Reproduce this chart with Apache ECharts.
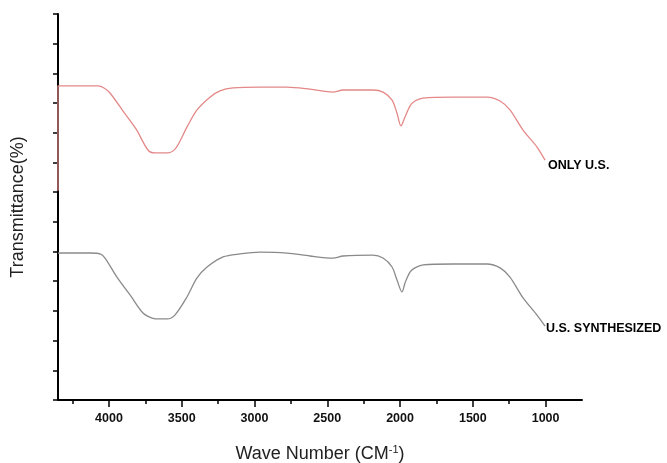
<!DOCTYPE html>
<html lang="en">
<head>
    <meta charset="UTF-8">
    <title>FTIR</title>
    <script src="https://cdn.jsdelivr.net/npm/echarts@6/dist/echarts.min.js"></script>
</head>
<body style="margin:0">
    <div id="chart" style="width:667px;height:463px"></div>
    <script>
        // wave numbers (cm-1) and transmittance
        var waveOnly = [4350, 4350, 4075, 4034, 3993, 3903, 3814, 3732, 3684, 3594, 3539, 3464, 3395, 3306, 3237, 3148,
            2962, 2777, 2619, 2461, 2392, 2186, 2117, 2055, 2021, 1994, 1966, 1932, 1898, 1842, 1636, 1403,
            1313, 1245, 1155, 1059, 1004];
        var transOnly = [70.5, 105.8, 105.8, 105.1, 103.4, 97.3, 91.3, 84.2, 83.2, 83.2, 84.9, 91.9, 97.7, 102.0, 104.1, 105.1,
            105.4, 105.4, 104.7, 103.7, 104.4, 104.4, 103.7, 101.0, 96.6, 92.3, 95.3, 99.0, 100.7, 101.7, 102.0, 102.0,
            100.7, 97.7, 90.9, 85.2, 80.8];

        var waveSynth = [4350, 4130, 4061, 4027, 3945, 3855, 3766, 3704, 3649, 3601, 3547, 3464, 3395, 3326, 3216, 3100,
            2962, 2777, 2619, 2461, 2392, 2186, 2117, 2055, 2021, 1987, 1966, 1932, 1898, 1842, 1636, 1403,
            1313, 1245, 1155, 1059, 1004];
        var transSynth = [49.5, 49.5, 49.2, 47.8, 41.4, 35.4, 29.3, 27.6, 27.3, 27.3, 28.6, 34.7, 41.1, 44.8, 48.2, 49.2,
            49.8, 49.5, 48.5, 47.8, 48.5, 48.8, 47.8, 44.8, 40.4, 36.4, 39.4, 43.1, 44.5, 45.5, 45.8, 45.8,
            44.5, 41.4, 34.4, 28.6, 24.9];

        var majorTicks = [1000, 1500, 2000, 2500, 3000, 3500, 4000];
        var minorTicks = [1250, 1750, 2250, 2750, 3250, 3750, 4250];

        function pairs(xs, ys) {
            var out = [];
            for (var i = 0; i < xs.length; i++) out.push([xs[i], ys[i]]);
            return out;
        }

        var myChart = echarts.init(document.getElementById('chart'));
        var font = 'Liberation Sans, Arial, sans-serif';

        var option = {
            animation: false,
            grid: { left: 58, right: 85, top: 14, bottom: 63, outerBoundsMode: 'none', containLabel: false },
            xAxis: [{
                type: 'value',
                min: 750,
                max: 4350,
                inverse: true,
                name: 'Wave Number (CM{sup|-1})',
                nameLocation: 'middle',
                nameGap: 44,
                nameTextStyle: {
                    fontSize: 18, color: '#222', fontFamily: font,
                    rich: { sup: { fontSize: 11, color: '#222', fontFamily: font, padding: [0, 0, 9, 0] } }
                },
                axisLine: { lineStyle: { color: '#000', width: 2 } },
                axisTick: { customValues: majorTicks, length: 7, lineStyle: { color: '#000', width: 1.5 } },
                axisLabel: {
                    customValues: majorTicks, margin: 12,
                    formatter: function (v) { return String(v); },
                    fontSize: 12.5, fontWeight: 'bold', color: '#111', fontFamily: font
                },
                splitLine: { show: false }
            }, {
                type: 'value',
                min: 750,
                max: 4350,
                inverse: true,
                position: 'bottom',
                axisLine: { show: false },
                axisTick: { customValues: minorTicks, length: 4, lineStyle: { color: '#000', width: 1.5 } },
                axisLabel: { show: false },
                splitLine: { show: false }
            }],
            yAxis: {
                type: 'value',
                min: 0,
                max: 130,
                interval: 10,
                name: 'Transmittance(%)',
                nameLocation: 'middle',
                nameGap: 31,
                nameTextStyle: { fontSize: 18, color: '#222', fontFamily: font },
                axisLine: { show: true, lineStyle: { color: '#000', width: 2 } },
                axisTick: { show: true, length: 5, lineStyle: { color: '#000', width: 1.5 } },
                axisLabel: { show: false },
                splitLine: { show: false }
            },
            series: [{
                name: 'ONLY U.S.',
                type: 'line',
                data: pairs(waveOnly, transOnly),
                smooth: 0.3,
                showSymbol: false,
                lineStyle: { color: '#e48888', width: 1.3 },
                endLabel: {
                    show: true, formatter: '{a}', align: 'left', distance: 0, offset: [3, 5],
                    fontSize: 12.5, fontWeight: 'bold', color: '#000', fontFamily: font
                }
            }, {
                name: 'U.S. SYNTHESIZED',
                type: 'line',
                data: pairs(waveSynth, transSynth),
                smooth: 0.3,
                showSymbol: false,
                lineStyle: { color: '#8a8a8a', width: 1.3 },
                endLabel: {
                    show: true, formatter: '{a}', align: 'left', distance: 0, offset: [1, 2],
                    fontSize: 12.5, fontWeight: 'bold', color: '#000', fontFamily: font
                }
            }]
        };
        myChart.setOption(option);
    </script>
</body>
</html>
